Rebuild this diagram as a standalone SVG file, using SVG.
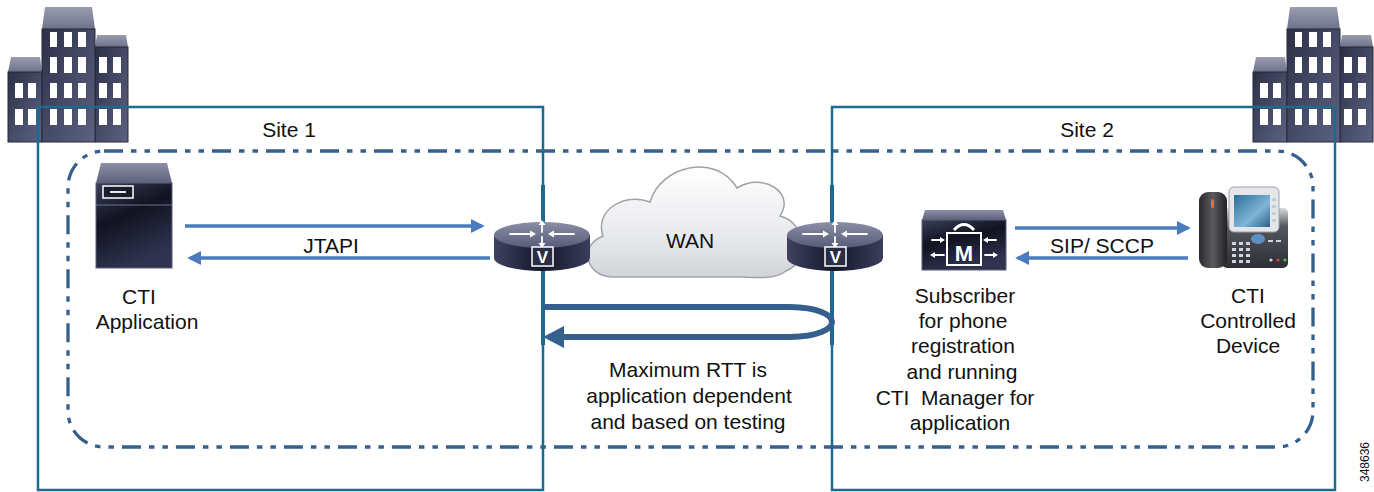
<svg xmlns="http://www.w3.org/2000/svg" xmlns:xlink="http://www.w3.org/1999/xlink" width="1374" height="492" viewBox="0 0 1374 492">
  <style>
    .lbl { font-family: "Liberation Sans", Arial, sans-serif; font-size: 21px; fill: #111; text-anchor: middle; white-space: pre; }
    .site { fill: none; stroke: #1d6a8f; stroke-width: 2.5; }
    .site-edge { stroke: #1d6a8f; stroke-width: 4; }
    .zone { fill: none; stroke: #35608e; stroke-width: 3.3; stroke-dasharray: 19 8 5.5 8 5.5 8; }
    .flow { stroke: #4a7cbf; stroke-width: 3.5; fill: none; }
    .win { fill: #ffffff; }
    .wht { stroke: #ffffff; stroke-width: 1.8; fill: none; stroke-linecap: round; }
  </style>
  <defs>
    <linearGradient id="bldBody" x1="0" y1="0" x2="1" y2="1">
      <stop offset="0" stop-color="#2c2f45"/>
      <stop offset="0.5" stop-color="#454a66"/>
      <stop offset="1" stop-color="#5c6180"/>
    </linearGradient>
    <linearGradient id="bldRoof" x1="0" y1="0" x2="0" y2="1">
      <stop offset="0" stop-color="#9a9db0"/>
      <stop offset="1" stop-color="#6e7289"/>
    </linearGradient>
    <linearGradient id="boxBody" x1="0" y1="0" x2="0.4" y2="1">
      <stop offset="0" stop-color="#3a3e58"/>
      <stop offset="0.45" stop-color="#111320"/>
      <stop offset="1" stop-color="#2f3350"/>
    </linearGradient>
    <linearGradient id="boxTop" x1="0" y1="0" x2="0" y2="1">
      <stop offset="0" stop-color="#8d90a6"/>
      <stop offset="1" stop-color="#5d6079"/>
    </linearGradient>
    <linearGradient id="rtSide" x1="0" y1="0" x2="1" y2="0">
      <stop offset="0" stop-color="#3e4260"/>
      <stop offset="0.5" stop-color="#14162a"/>
      <stop offset="1" stop-color="#3a3e5a"/>
    </linearGradient>
    <linearGradient id="rtTop" x1="0" y1="0" x2="0" y2="1">
      <stop offset="0" stop-color="#8a8ea6"/>
      <stop offset="1" stop-color="#575b77"/>
    </linearGradient>
    <linearGradient id="cloudFill" x1="0" y1="0" x2="0" y2="1">
      <stop offset="0" stop-color="#ffffff"/>
      <stop offset="0.6" stop-color="#e9eaed"/>
      <stop offset="1" stop-color="#d2d4d9"/>
    </linearGradient>
    <linearGradient id="screen" x1="0" y1="0" x2="1" y2="1">
      <stop offset="0" stop-color="#2a6f9a"/>
      <stop offset="0.6" stop-color="#7fb5d6"/>
      <stop offset="1" stop-color="#2b5f86"/>
    </linearGradient>
    <linearGradient id="handset" x1="0" y1="0" x2="1" y2="0">
      <stop offset="0" stop-color="#2a2a2e"/>
      <stop offset="0.5" stop-color="#5a5a60"/>
      <stop offset="1" stop-color="#222226"/>
    </linearGradient>
    <linearGradient id="phoneBase" x1="0" y1="0" x2="0" y2="1">
      <stop offset="0" stop-color="#d8dadd"/>
      <stop offset="0.3" stop-color="#55585e"/>
      <stop offset="1" stop-color="#2c2e33"/>
    </linearGradient>

    <!-- office building: three blocks with white windows -->
    <g id="building">
      <polygon points="11,57 40,57 42,72 8,72" fill="url(#bldRoof)"/>
      <rect x="8" y="72" width="34" height="70" fill="url(#bldBody)" stroke="#26283a" stroke-width="1"/>
      <polygon points="97,35 126,35 128,47 95,47" fill="url(#bldRoof)"/>
      <rect x="95" y="47" width="33" height="95" fill="url(#bldBody)" stroke="#26283a" stroke-width="1"/>
      <polygon points="45,7 92,7 95,29 42,29" fill="url(#bldRoof)"/>
      <rect x="42" y="29" width="53" height="113" fill="url(#bldBody)" stroke="#26283a" stroke-width="1"/>
      <!-- left block windows -->
      <rect class="win" x="15" y="83" width="8" height="15"/>
      <rect class="win" x="28" y="83" width="8" height="15"/>
      <rect class="win" x="15" y="109" width="8" height="16"/>
      <rect class="win" x="28" y="109" width="8" height="16"/>
      <!-- middle block windows -->
      <rect class="win" x="50" y="32" width="7" height="15"/>
      <rect class="win" x="64" y="32" width="8" height="15"/>
      <rect class="win" x="78" y="32" width="8" height="15"/>
      <rect class="win" x="50" y="57" width="7" height="16"/>
      <rect class="win" x="64" y="57" width="8" height="16"/>
      <rect class="win" x="78" y="57" width="8" height="16"/>
      <rect class="win" x="50" y="83" width="7" height="15"/>
      <rect class="win" x="64" y="83" width="8" height="15"/>
      <rect class="win" x="78" y="83" width="8" height="15"/>
      <rect class="win" x="50" y="109" width="7" height="16"/>
      <rect class="win" x="64" y="109" width="8" height="16"/>
      <rect class="win" x="78" y="109" width="8" height="16"/>
      <!-- right block windows -->
      <rect class="win" x="99" y="57" width="8" height="16"/>
      <rect class="win" x="113" y="57" width="8" height="16"/>
      <rect class="win" x="99" y="83" width="8" height="15"/>
      <rect class="win" x="113" y="83" width="8" height="15"/>
      <rect class="win" x="99" y="109" width="8" height="16"/>
      <rect class="win" x="113" y="109" width="8" height="16"/>
    </g>

    <!-- router: short cylinder, centred on x=0 -->
    <g id="router">
      <path d="M -48 235 V 258 A 48 13 0 0 0 48 258 V 235 Z" fill="url(#rtSide)"/>
      <ellipse cx="0" cy="235" rx="48" ry="13" fill="url(#rtTop)"/>
      <path class="wht" d="M -32 234 H -9 M 32 234 H 9 M 0 232 V 223 M 0 237 V 245"/>
      <polygon points="-6,234 -12,230.5 -12,237.5" fill="#fff"/>
      <polygon points="6,234 12,230.5 12,237.5" fill="#fff"/>
      <polygon points="0,220 -3.5,225 3.5,225" fill="#fff"/>
      <polygon points="0,248 -3.5,243 3.5,243" fill="#fff"/>
      <rect x="-10" y="247" width="21" height="19" fill="#2a2d45" stroke="#ffffff" stroke-width="1.5"/>
      <text x="0.5" y="263" font-family="Liberation Sans, Arial, sans-serif" font-size="17" font-weight="bold" fill="#ffffff" text-anchor="middle">V</text>
    </g>

    <marker id="flowArrow" viewBox="0 0 10 10" refX="8" refY="5" markerWidth="4" markerHeight="4" markerUnits="strokeWidth" orient="auto">
      <path d="M0,0 L10,5 L0,10 Z" fill="#4a7cbf"/>
    </marker>
  </defs>

  <!-- buildings behind the site frames -->
  <g id="building-site1"><use xlink:href="#building" href="#building"/></g>
  <g id="building-site2"><use xlink:href="#building" href="#building" transform="translate(1245,0)"/></g>

  <!-- site frames -->
  <g id="site1">
    <rect class="site" x="38" y="107" width="505" height="383"/>
    <line class="site-edge" x1="543" y1="185" x2="543" y2="345"/>
    <text class="lbl" x="289" y="137">Site 1</text>
  </g>
  <g id="site2">
    <rect class="site" x="832" y="107" width="503" height="383"/>
    <line class="site-edge" x1="832" y1="185" x2="832" y2="345"/>
    <text class="lbl" x="1087" y="137">Site 2</text>
  </g>

  <!-- dash-dot zone around the whole deployment -->
  <g id="cluster-zone">
    <rect class="zone" x="68" y="151" width="1245" height="296" rx="36" ry="36"/>
  </g>

  <!-- WAN cloud -->
  <g id="wan">
    <path d="M 612 277 C 586 276 578 246 603 236 C 594 210 625 192 650 202 C 660 166 716 152 737 188 C 762 172 796 192 780 216 C 806 222 810 262 786 271 C 776 279 760 278 742 277 Z" fill="url(#cloudFill)" stroke="#9ea2aa" stroke-width="1.5"/>
    <text class="lbl" x="690" y="248">WAN</text>
  </g>

  <!-- routers -->
  <g id="router-site1"><use xlink:href="#router" href="#router" transform="translate(542,0)"/></g>
  <g id="router-site2"><use xlink:href="#router" href="#router" transform="translate(835,0)"/></g>

  <!-- CTI application server -->
  <g id="cti-application">
    <polygon points="101,163 167,163 172,183 96,183" fill="url(#boxTop)"/>
    <rect x="96" y="183" width="76" height="85" fill="url(#boxBody)" stroke="#5b5f7a" stroke-width="1"/>
    <line x1="96" y1="205" x2="172" y2="205" stroke="#6c7090" stroke-width="1.2"/>
    <rect x="103" y="186" width="30" height="12" fill="#1b1d2c" stroke="#ffffff" stroke-width="1.5"/>
    <line x1="110" y1="192" x2="126" y2="192" stroke="#ffffff" stroke-width="1.8"/>
    <text class="lbl" x="139" y="304">CTI</text>
    <text class="lbl" x="147" y="329">Application</text>
  </g>

  <!-- subscriber running CTI Manager -->
  <g id="subscriber">
    <polygon points="925,210 1003,210 1006,220 922,220" fill="url(#boxTop)"/>
    <rect x="922" y="220" width="84" height="50" fill="url(#boxBody)" stroke="#5b5f7a" stroke-width="1"/>
    <rect x="947" y="233" width="34" height="32" fill="none" stroke="#ffffff" stroke-width="2"/>
    <text x="964" y="261" font-family="Liberation Sans, Arial, sans-serif" font-size="22" font-weight="bold" fill="#ffffff" text-anchor="middle">M</text>
    <path d="M 954 230 Q 964 219 974 230" fill="none" stroke="#ffffff" stroke-width="3"/>
    <path class="wht" d="M 932 240 H 942 M 933 255 H 944 M 996 240 H 986 M 985 255 H 995"/>
    <polygon points="945,240 940,237 940,243" fill="#fff"/>
    <polygon points="930,255 935,252 935,258" fill="#fff"/>
    <polygon points="983,240 988,237 988,243" fill="#fff"/>
    <polygon points="998,255 993,252 993,258" fill="#fff"/>
    <text class="lbl" x="965" y="303">Subscriber</text>
    <text class="lbl" x="963" y="328">for phone</text>
    <text class="lbl" x="963" y="353">registration</text>
    <text class="lbl" x="962" y="379">and running</text>
    <text class="lbl" x="955" y="405">CTI  Manager for</text>
    <text class="lbl" x="960" y="430">application</text>
  </g>

  <!-- CTI controlled IP phone -->
  <g id="cti-device">
    <rect x="1222" y="208" width="66" height="60" rx="5" fill="url(#phoneBase)"/>
    <rect x="1229" y="187" width="50" height="45" rx="5" fill="#e4e6e9" stroke="#9ea1a6" stroke-width="1"/>
    <rect x="1234" y="195" width="36" height="32" fill="url(#screen)"/>
    <g fill="#c9ccd0">
      <rect x="1272" y="198" width="4" height="3"/>
      <rect x="1272" y="205" width="4" height="3"/>
      <rect x="1272" y="212" width="4" height="3"/>
      <rect x="1272" y="219" width="4" height="3"/>
    </g>
    <ellipse cx="1258" cy="239" rx="7" ry="5" fill="#5d8fc0"/>
    <g fill="#d0d3d8">
      <rect x="1232" y="242" width="4" height="3"/><rect x="1239" y="242" width="4" height="3"/><rect x="1246" y="242" width="4" height="3"/>
      <rect x="1232" y="248" width="4" height="3"/><rect x="1239" y="248" width="4" height="3"/><rect x="1246" y="248" width="4" height="3"/>
      <rect x="1232" y="254" width="4" height="3"/><rect x="1239" y="254" width="4" height="3"/><rect x="1246" y="254" width="4" height="3"/>
      <rect x="1232" y="260" width="4" height="3"/><rect x="1239" y="260" width="4" height="3"/><rect x="1246" y="260" width="4" height="3"/>
      <rect x="1268" y="240" width="5" height="2"/><rect x="1276" y="240" width="5" height="2"/>
    </g>
    <circle cx="1271" cy="260" r="1.6" fill="#d0d0d0"/>
    <circle cx="1278" cy="260" r="1.6" fill="#d94a3c"/>
    <circle cx="1285" cy="260" r="1.6" fill="#4cc04a"/>
    <rect x="1199" y="192" width="28" height="76" rx="9" fill="url(#handset)"/>
    <rect x="1211" y="199" width="3" height="9" rx="1.5" fill="#e86a2c"/>
    <text class="lbl" x="1248" y="303">CTI</text>
    <text class="lbl" x="1248" y="328">Controlled</text>
    <text class="lbl" x="1248" y="353">Device</text>
  </g>

  <!-- signalling flows and round-trip arrow -->
  <g id="connectors">
    <line class="flow" x1="185" y1="226" x2="482" y2="226" marker-end="url(#flowArrow)"/>
    <line class="flow" x1="490" y1="258" x2="190" y2="258" marker-end="url(#flowArrow)"/>
    <text class="lbl" x="331" y="253">JTAPI</text>
    <line class="flow" x1="1015" y1="228" x2="1188" y2="228" marker-end="url(#flowArrow)"/>
    <line class="flow" x1="1188" y1="258" x2="1018" y2="258" marker-end="url(#flowArrow)"/>
    <text class="lbl" x="1102" y="253">SIP/ SCCP</text>
    <path d="M 543 307 H 790 C 846 308 846 336 790 337 H 562" fill="none" stroke="#35608e" stroke-width="6"/>
    <polygon points="543,337 564,326 564,348" fill="#35608e"/>
  </g>

  <g id="rtt-note">
    <text class="lbl" x="688" y="377">Maximum RTT is</text>
    <text class="lbl" x="689" y="403">application dependent</text>
    <text class="lbl" x="688" y="429">and based on testing</text>
  </g>

  <text x="1369" y="462" font-family="Liberation Sans, Arial, sans-serif" font-size="12" fill="#111" text-anchor="middle" transform="rotate(-90 1369 462)">348636</text>
</svg>
